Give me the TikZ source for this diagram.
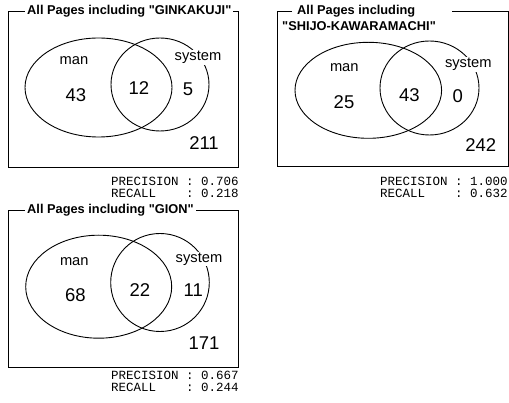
\documentclass[tikz,border=0pt]{standalone}
\usepackage{fontspec}
\setmainfont{Liberation Sans}
\newfontfamily\plainsans{Liberation Sans}[Ligatures=NoCommon]
\setmonofont{Liberation Mono}
\usetikzlibrary{shapes.geometric}
\begin{document}
\begin{tikzpicture}[x=1pt,y=-1pt,
 frame/.style={draw, line width=0.9pt},
 ring/.style={draw, ellipse, line width=0.9pt, inner sep=0pt},
 ttl/.style={font=\plainsans\fontsize{12.8}{14}\selectfont\bfseries, inner sep=0pt},
 lbl/.style={font=\fontsize{14.7}{16}\selectfont, inner sep=0pt},
 num/.style={font=\fontsize{18.5}{20}\selectfont, inner sep=0pt},
 mono/.style={font=\fontsize{12.5}{14}\selectfont\ttfamily, inner sep=0pt, anchor=west},
]
\useasboundingbox (0,0) rectangle (509,403);
% Panel 1
\draw[frame] (8,11) rectangle (238,167);
\node[ttl, fill=white, inner xsep=2pt, anchor=west] (t1) at (25,11) {All Pages including "GINKAKUJI"};
\node[ring, minimum width=147pt, minimum height=99pt] (m1) at (98.5,87.5) {};
\node[ring, minimum width=98pt, minimum height=93pt] (s1) at (160,84.5) {};
\node[lbl] (lm1) at (74,61) {man};
\node[lbl, fill=white, inner sep=1pt] (ls1) at (198,57.5) {system};
\node[num] (a1) at (76,95) {43};
\node[num] (b1) at (139,88) {12};
\node[num] (c1) at (188,89) {5};
\node[num] (d1) at (204,143) {211};
\node[mono] (p1) at (111,181) {PRECISION~:~0.706};
\node[mono] (r1) at (111,193) {RECALL~~~~:~0.218};
% Panel 2
\draw[frame] (292,11) -- (277,11) -- (277,166) -- (508,166) -- (508,11) -- (452,11);
\node[ttl, anchor=west] (t2a) at (297,11) {All Pages including};
\node[ttl, anchor=west] (t2b) at (282,26) {"SHIJO-KAWARAMACHI"};
\node[ring, minimum width=146.6pt, minimum height=96pt] (m2) at (368.3,90.3) {};
\node[ring, minimum width=99pt, minimum height=94pt] (s2) at (429.5,88) {};
\node[lbl] (lm2) at (344.3,67.7) {man};
\node[lbl, fill=white, inner sep=1pt] (ls2) at (468.3,64.3) {system};
\node[num] (a2) at (344,101.7) {25};
\node[num] (b2) at (409.3,95) {43};
\node[num] (c2) at (457.7,95.7) {0};
\node[num] (d2) at (480.7,145) {242};
\node[mono] (p2) at (380,181) {PRECISION~:~1.000};
\node[mono] (r2) at (380,193) {RECALL~~~~:~0.632};
% Panel 3
\draw[frame] (8,210) rectangle (238,367.7);
\node[ttl, fill=white, inner xsep=2pt, anchor=west] (t3) at (25,210) {All Pages including "GION"};
\node[ring, minimum width=146pt, minimum height=103pt] (m3) at (98.7,286.7) {};
\node[ring, minimum width=98.6pt, minimum height=98pt] (s3) at (160,282.5) {};
\node[lbl] (lm3) at (74.3,261.7) {man};
\node[lbl, fill=white, inner sep=1pt] (ls3) at (199,259) {system};
\node[num] (a3) at (75.3,295) {68};
\node[num] (b3) at (140,290) {22};
\node[num] (c3) at (193.3,290) {11};
\node[num] (d3) at (204,343.3) {171};
\node[mono] (p3) at (111,375.7) {PRECISION~:~0.667};
\node[mono] (r3) at (111,387.7) {RECALL~~~~:~0.244};
\end{tikzpicture}
\end{document}
